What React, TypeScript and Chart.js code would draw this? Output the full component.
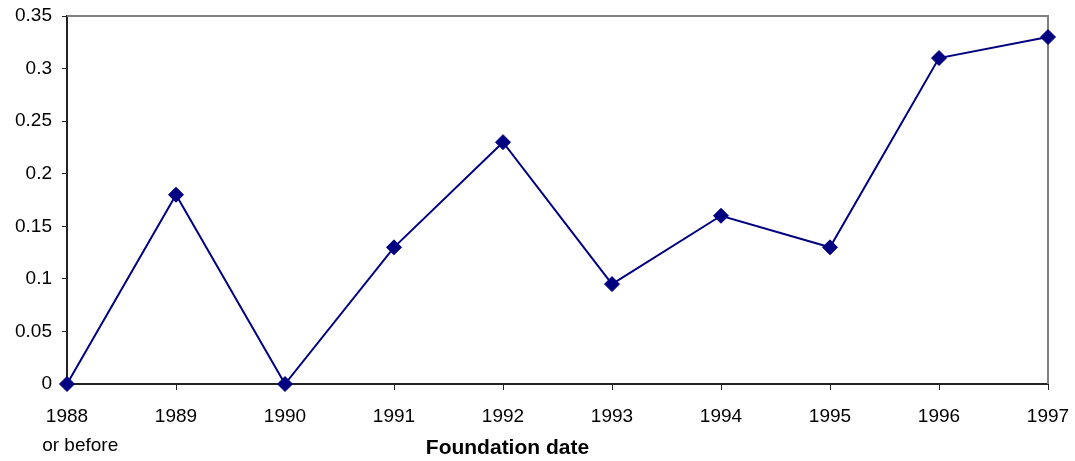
import React, { useEffect, useRef } from "react";
import { Chart, registerables } from "chart.js";

Chart.register(...registerables);

// Foundation year categories (first one groups the earlier years)
const categories: (string | string[])[] = [
  ["1988", "     or before"],
  "1989",
  "1990",
  "1991",
  "1992",
  "1993",
  "1994",
  "1995",
  "1996",
  "1997",
];

// Share per foundation year
const shares: number[] = [0, 0.18, 0, 0.13, 0.23, 0.095, 0.16, 0.13, 0.31, 0.33];

const yMin = 0;
const yMax = 0.35;
const yStep = 0.05;

const xAxisTitle = "Foundation date";

const FONT = "'Liberation Sans', Arial, Helvetica, sans-serif";
const NAVY = "#000080";

// Gray frame on the top and right sides of the plot, plus the axis title
const framePlugin = {
  id: "plotFrame",
  beforeDatasetsDraw(chart: Chart) {
    const { ctx, chartArea } = chart;
    ctx.save();
    ctx.strokeStyle = "#808080";
    ctx.lineWidth = 2;
    ctx.beginPath();
    ctx.moveTo(chartArea.left, chartArea.top);
    ctx.lineTo(chartArea.right, chartArea.top);
    ctx.lineTo(chartArea.right, chartArea.bottom);
    ctx.stroke();
    ctx.restore();
  },
  afterDraw(chart: Chart) {
    const { ctx, chartArea } = chart;
    ctx.save();
    ctx.fillStyle = "#000";
    ctx.font = `bold 21px ${FONT}`;
    ctx.textAlign = "center";
    ctx.textBaseline = "middle";
    const cx = chartArea.left + (chartArea.right - chartArea.left) * 0.449;
    ctx.fillText(xAxisTitle, cx, chartArea.bottom + 64);
    ctx.restore();
  },
};

export default function App() {
  const canvasRef = useRef<HTMLCanvasElement | null>(null);

  useEffect(() => {
    document.body.style.margin = "0";
    const canvas = canvasRef.current;
    if (!canvas) return;
    const chart = new Chart(canvas, {
      type: "line",
      data: {
        labels: categories,
        datasets: [
          {
            data: shares,
            borderColor: NAVY,
            backgroundColor: NAVY,
            borderWidth: 2,
            pointStyle: "rectRot",
            pointRadius: 7.5,
            pointBorderWidth: 1,
            pointBackgroundColor: NAVY,
            pointBorderColor: NAVY,
            tension: 0,
            clip: false,
          },
        ],
      },
      options: {
        responsive: false,
        animation: false,
        layout: { padding: { top: 16, right: 27, left: 0, bottom: 0 } },
        plugins: {
          legend: { display: false },
          tooltip: { enabled: false },
        },
        scales: {
          x: {
            type: "category",
            offset: false,
            grid: {
              display: true,
              drawOnChartArea: false,
              drawTicks: true,
              tickLength: 6,
              color: "#222",
              offset: false,
            },
            border: { display: true, color: "#222", width: 2 },
            ticks: {
              color: "#000",
              padding: 13,
              maxRotation: 0,
              autoSkip: false,
              font: { family: FONT, size: 19, lineHeight: 1.5 },
            },
            afterFit(scale: any) {
              scale.height = 77;
              scale.paddingLeft = 0;
              scale.paddingRight = 0;
            },
          },
          y: {
            min: yMin,
            max: yMax,
            grid: {
              display: true,
              drawOnChartArea: false,
              drawTicks: true,
              tickLength: 5,
              color: "#222",
            },
            border: { display: true, color: "#222", width: 2 },
            ticks: {
              stepSize: yStep,
              color: "#000",
              padding: 10,
              font: { family: FONT, size: 19 },
              callback: (v: any) => String(+Number(v).toFixed(2)),
            },
            afterFit(scale: any) {
              scale.width = 67;
              scale.paddingTop = 0;
              scale.paddingBottom = 0;
            },
          },
        },
      },
      plugins: [framePlugin],
    });
    return () => chart.destroy();
  }, []);

  return (
    <div style={{ width: 1075, height: 461 }}>
      <canvas ref={canvasRef} width={1075} height={461} />
    </div>
  );
}
